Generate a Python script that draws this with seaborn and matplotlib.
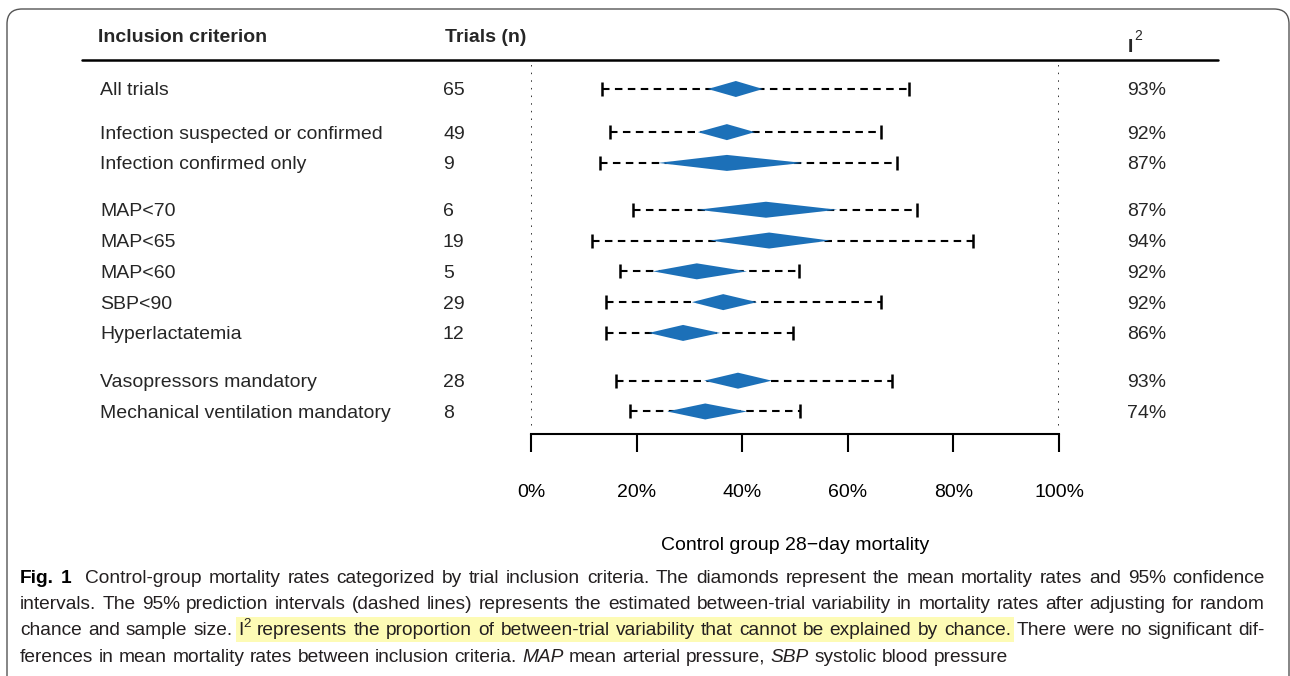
import matplotlib
matplotlib.use("Agg")
import matplotlib.pyplot as plt
import matplotlib.transforms as mtransforms
from matplotlib.patches import FancyBboxPatch, Rectangle
from matplotlib.lines import Line2D
import numpy as np
import pandas as pd
import seaborn as sns

# ---------------- data ----------------
criteria = ["All trials", "Infection suspected or confirmed", "Infection confirmed only",
            "MAP<70", "MAP<65", "MAP<60", "SBP<90", "Hyperlactatemia",
            "Vasopressors mandatory", "Mechanical ventilation mandatory"]
groups = [0, 1, 1, 2, 2, 2, 2, 2, 3, 3]
n_trials = [65, 49, 9, 6, 19, 5, 29, 12, 28, 8]
mean_mort = [38.8, 37.1, 37.1, 44.5, 45.1, 31.4, 36.4, 28.8, 39.2, 33.0]
ci_low = [33.5, 31.6, 24.1, 31.6, 33.9, 23.1, 30.5, 22.3, 32.8, 25.8]
ci_high = [43.9, 42.4, 51.5, 58.0, 56.6, 40.9, 42.8, 35.8, 45.6, 40.9]
pi_low = [13.4, 15.0, 13.1, 19.3, 11.6, 16.9, 14.2, 14.2, 16.1, 18.8]
pi_high = [71.6, 66.3, 69.3, 73.1, 83.7, 50.8, 66.3, 49.6, 68.4, 50.9]
i2 = [93, 92, 87, 87, 94, 92, 92, 86, 93, 74]
xticks = [0, 20, 40, 60, 80, 100]
xtick_labels = ["0%", "20%", "40%", "60%", "80%", "100%"]

# ---------------- style ----------------
sns.set_theme(style="white")
plt.rcParams["font.family"] = ["Liberation Sans", "DejaVu Sans"]
plt.rcParams["axes.unicode_minus"] = False

W, H, DPI = 1290, 676, 100
fig = plt.figure(figsize=(W / DPI, H / DPI), dpi=DPI)
fig.patch.set_facecolor("white")

FS = 14
BLUE = "#1c70b8"

# forest axes: 0% at x=531px, 100% at x=1059px; top y=60px, axis line y=434px
unit = 30.8
row0 = 89
top_px, bot_px = 60, 434
ax = fig.add_axes([531 / W, 1 - bot_px / H, (1059 - 531) / W, (bot_px - top_px) / H])
ax.set_xlim(0, 100)
ax.set_ylim((bot_px - row0) / unit, (top_px - row0) / unit)
ax.patch.set_alpha(0)

df = pd.DataFrame({
    "criterion": criteria, "n": n_trials, "mean": mean_mort,
    "lo": ci_low, "hi": ci_high, "plo": pi_low, "phi": pi_high, "i2": i2,
    "group": groups,
})
group_gap = [0.0, 0.4, 0.92, 1.47]   # layout: extra vertical gap before each block
df["y"] = np.arange(len(df)) + np.array([group_gap[g] for g in df["group"]])

# dotted reference lines at 0% and 100%
ax.vlines([xticks[0], xticks[-1]], (65 - row0) / unit, (430 - row0) / unit,
          colors="black", linestyles=(0, (1, 4)), linewidth=1.1)

# prediction intervals (dashed)
ax.hlines(df["y"], df["plo"], df["phi"], colors="black",
          linestyles=(0, (3.6, 2.6)), linewidth=1.5)
caps = pd.DataFrame({"x": pd.concat([df["plo"], df["phi"]]),
                     "y": pd.concat([df["y"], df["y"]])})
sns.scatterplot(data=caps, x="x", y="y", marker="|", s=100, color="black",
                linewidth=1.8, ax=ax, legend=False, zorder=3)

# diamonds
hh = 0.26
for _, r in df.iterrows():
    ax.fill([r["lo"], r["mean"], r["hi"], r["mean"]],
            [r["y"], r["y"] - hh, r["y"], r["y"] + hh],
            color=BLUE, linewidth=0, zorder=4)

# axis styling
for s in ["left", "top", "right"]:
    ax.spines[s].set_visible(False)
ax.spines["bottom"].set_linewidth(1.5)
ax.spines["bottom"].set_color("black")
ax.set_yticks([])
ax.set_xticks(xticks)
ax.set_xticklabels(xtick_labels, fontsize=FS)
ax.tick_params(axis="x", direction="out", length=13, width=1.5, pad=23,
               colors="black", bottom=True)
ax.set_xlabel("Control group 28\u2212day mortality", fontsize=FS, labelpad=26,
              color="black")
ax.set_ylabel("")

# text columns
blend = mtransforms.blended_transform_factory(fig.transFigure, ax.transData)
for _, r in df.iterrows():
    ax.text(100 / W, r["y"], r["criterion"], transform=blend, fontsize=FS,
            va="center_baseline", ha="left", clip_on=False)
    ax.text(443 / W, r["y"], str(r["n"]), transform=blend, fontsize=FS,
            va="center_baseline", ha="left", clip_on=False)
    ax.text(1127 / W, r["y"], f"{r['i2']}%", transform=blend, fontsize=FS,
            va="center_baseline", ha="left", clip_on=False)

# header
fig.text(98 / W, 1 - 35 / H, "Inclusion criterion", fontsize=FS, fontweight="bold",
         va="center_baseline", ha="left")
fig.text(445 / W, 1 - 35 / H, "Trials (n)", fontsize=FS, fontweight="bold",
         va="center_baseline", ha="left")
fig.text(1128 / W, 1 - 45 / H, "I", fontsize=FS, fontweight="bold",
         va="center_baseline", ha="left")
fig.text(1134 / W, 1 - 35 / H, "2", fontsize=10, va="center_baseline", ha="left")
fig.add_artist(Line2D([82 / W, 1218 / W], [1 - 60 / H, 1 - 60 / H],
                      transform=fig.transFigure, color="black", linewidth=1.8))

# figure border (rounded box)
fig.add_artist(FancyBboxPatch((0.07, -0.2), 12.82, 6.87,
                              boxstyle="round,pad=0,rounding_size=0.15",
                              transform=fig.dpi_scale_trans, facecolor="none",
                              edgecolor="#555555", linewidth=1.0))

# ---------------- caption ----------------
cap_family = "Liberation Sans"
renderer = fig.canvas.get_renderer()
CCOL = "#231f20"


def text_width(s, size, **kw):
    t = fig.text(0, 0, s, fontsize=size, family=cap_family, **kw)
    w = t.get_window_extent(renderer).width
    t.remove()
    return w


def tokenize(pieces):
    toks = []
    prev_flags = []
    for text, kw, flags in pieces:
        words = text.split(" ")
        for i, wd in enumerate(words):
            if not toks:
                gap = 0
            elif i == 0:
                gap = 0 if "join" in flags else (2 if "sp2" in prev_flags else 1)
            else:
                gap = 1
            toks.append({"w": wd, "kw": kw, "sup": "sup" in flags,
                         "hl": "hl" in flags, "gap": gap})
        prev_flags = flags
    return toks


def natural_width(pieces, size):
    sp = text_width("x x", size) - text_width("xx", size)
    tot = 0
    for t in tokenize(pieces):
        s = size * 0.7 if t["sup"] else size
        tot += text_width(t["w"], s, **t["kw"]) + sp * t["gap"]
    return tot


def draw_line(pieces, x0, ybase, size, right=None):
    toks = tokenize(pieces)
    sp = text_width("x x", size) - text_width("xx", size)
    if right is not None:
        nat = natural_width(pieces, size)
        ngap = sum(t["gap"] for t in toks)
        sp += (right - x0 - nat) / max(ngap, 1)
    x = x0
    hl = []
    for t in toks:
        x += sp * t["gap"]
        s = size * 0.7 if t["sup"] else size
        yy = ybase - (size * 0.55 if t["sup"] else 0)
        kwargs = {"color": CCOL}
        kwargs.update(t["kw"])
        txt = fig.text(x / W, 1 - yy / H, t["w"], fontsize=s, family=cap_family,
                       va="baseline", ha="left", zorder=5, **kwargs)
        w = txt.get_window_extent(renderer).width
        if t["hl"]:
            hl.append((x, x + w))
        x += w
    if hl:
        x_a, x_b = hl[0][0], hl[-1][1]
        fig.add_artist(Rectangle(((x_a - 3) / W, 1 - (ybase + 7) / H),
                                 (x_b - x_a + 6) / W, 25 / H,
                                 transform=fig.transFigure, facecolor="#fdfbb5",
                                 edgecolor="none", zorder=1))


L1 = [("Fig. 1", {"fontweight": "bold", "color": "black"}, ["sp2"]),
      ("Control-group mortality rates categorized by trial inclusion criteria. The diamonds represent the mean mortality rates and 95% confidence", {}, [])]
L2 = [("intervals. The 95% prediction intervals (dashed lines) represents the estimated between-trial variability in mortality rates after adjusting for random", {}, [])]
L3 = [("chance and sample size.", {}, []),
      ("I", {}, ["hl"]),
      ("2", {}, ["sup", "hl", "join"]),
      ("represents the proportion of between-trial variability that cannot be explained by chance.", {}, ["hl"]),
      ("There were no significant dif-", {}, [])]
L4 = [("ferences in mean mortality rates between inclusion criteria.", {}, []),
      ("MAP", {"style": "italic"}, []),
      ("mean arterial pressure,", {}, []),
      ("SBP", {"style": "italic"}, []),
      ("systolic blood pressure", {}, [])]

x0, x1 = 20, 1265
base = 10.0
widest = max(natural_width(L, base) for L in (L1, L2, L3))
CS = base * (x1 - x0 - 8) / widest

draw_line(L1, x0, 583, CS, right=x1)
draw_line(L2, x0, 609, CS, right=x1)
draw_line(L3, x0, 635, CS, right=x1)
draw_line(L4, x0, 662, CS)

fig.savefig("out.png", dpi=DPI, facecolor="white")
